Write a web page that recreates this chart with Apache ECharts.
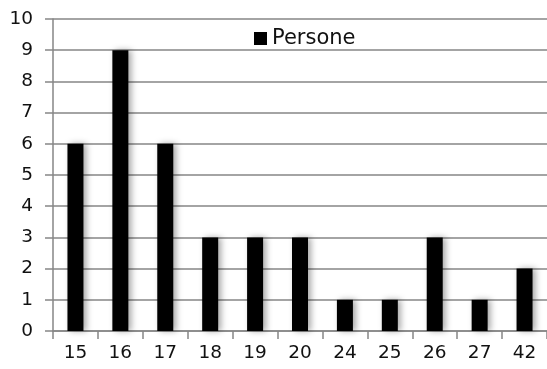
<!DOCTYPE html>
<html><head><meta charset="utf-8">
<script src="https://cdn.jsdelivr.net/npm/echarts@6/dist/echarts.min.js"></script>
<style>html,body{margin:0;padding:0;background:#fff}#c{width:547px;height:369px}</style>
</head><body><div id="c"></div>
<script>
const categories = ['15','16','17','18','19','20','24','25','26','27','42'];
const persone = [6,9,6,3,3,3,1,1,3,1,2];
const seriesName = 'Persone';
const yTicks = {min:0, max:10, interval:1};

const font = 'DejaVu Sans';
const chart = echarts.init(document.getElementById('c'), null, {renderer:'canvas'});
chart.setOption({
  animation:false,
  backgroundColor:'#fff',
  grid:{left:53, right:0, top:19, bottom:38, containLabel:false},
  legend:{
    data:[seriesName], left:249, top:23, itemWidth:13, itemHeight:13, itemGap:5,
    icon:'rect', textStyle:{fontFamily:font, fontSize:21, color:'#111'}
  },
  xAxis:{
    type:'category', data:categories,
    axisLine:{lineStyle:{color:'#868686', width:1.5}},
    axisTick:{show:true, length:8, lineStyle:{color:'#868686', width:1.5}},
    axisLabel:{fontFamily:font, fontSize:18.5, color:'#111', margin:13}
  },
  yAxis:{
    type:'value', min:yTicks.min, max:yTicks.max, interval:yTicks.interval,
    axisLine:{show:true, lineStyle:{color:'#868686', width:1.5}},
    axisTick:{show:true, length:8, lineStyle:{color:'#868686', width:1.5}},
    splitLine:{lineStyle:{color:'#868686', width:1.5}},
    axisLabel:{fontFamily:font, fontSize:18.5, color:'#111', margin:20}
  },
  series:[{
    name:seriesName, type:'bar', data:persone, barWidth:16,
    itemStyle:{color:'#000', shadowColor:'rgba(0,0,0,0.35)', shadowBlur:6, shadowOffsetX:3}
  }]
});
</script></body></html>
